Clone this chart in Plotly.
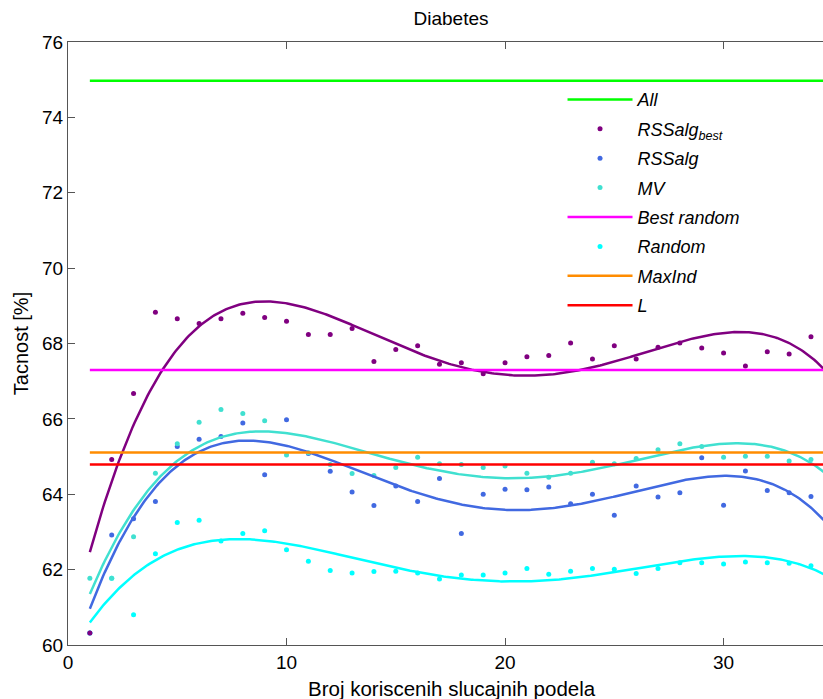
import numpy as np
import plotly.graph_objects as go

# Number of random splits used (the axis is cut at 34.55, so split 35 lies just off the visible area)
n_splits = list(range(1, 36))

# Accuracy [%] per number of splits
rssalg_best = [60.32, 64.92, 66.67, 68.83, 68.66, 68.53, 68.66, 68.80, 68.69, 68.59,
               68.24, 68.24, 68.40, 67.52, 67.84, 67.94, 67.45, 67.49, 67.20, 67.49,
               67.65, 67.68, 68.01, 67.59, 67.94, 67.59, 67.90, 68.01, 67.88, 67.75,
               67.40, 67.78, 67.72, 68.18, 67.70]
rssalg = [60.32, 62.92, 63.35, 63.81, 65.27, 65.46, 65.53, 65.89, 64.52, 65.98,
          65.08, 64.61, 64.06, 63.70, 64.22, 63.81, 64.42, 62.96, 64.00, 64.13,
          64.12, 64.19, 63.75, 64.00, 63.44, 64.22, 63.93, 64.04, 64.97, 63.71,
          64.62, 64.10, 64.04, 63.94, 63.10]
mv = [61.77, 61.77, 62.87, 64.56, 65.34, 65.91, 66.25, 66.14, 65.95, 65.04,
      65.10, 64.79, 64.55, 64.50, 64.71, 64.98, 64.81, 64.79, 64.71, 64.75,
      64.56, 64.45, 64.56, 64.85, 64.81, 64.95, 65.18, 65.34, 65.27, 64.98,
      65.01, 65.01, 64.88, 64.92, 64.85]
random_acc = [60.32, 61.77, 60.80, 62.42, 63.25, 63.31, 62.76, 62.96, 63.03, 62.53,
              62.22, 61.98, 61.91, 61.95, 61.96, 61.91, 61.75, 61.86, 61.86, 61.91,
              62.03, 61.88, 61.96, 62.03, 62.01, 61.90, 62.03, 62.18, 62.18, 62.15,
              62.20, 62.18, 62.17, 62.10, 62.00]

# Constant reference accuracies
all_acc = 74.97
best_random = 67.30
maxind = 65.11
l_acc = 64.79

line_span = [1, 35]

colors = {
    "all": "#00FF00",
    "best": "#800080",
    "rss": "#4169E1",
    "mv": "#40E0D0",
    "bestrand": "#FF00FF",
    "rand": "#00FFFF",
    "maxind": "#FF8C00",
    "l": "#FF0000",
}

FONT = "Liberation Sans, Arial, Helvetica, sans-serif"

fig = go.Figure()

# scatter points (drawn bottom to top)
point_series = [
    ("Random", random_acc, colors["rand"], 6),
    ("RSSalg", rssalg, colors["rss"], 3),
    ("MV", mv, colors["mv"], 4),
    ("RSSalg<sub>best</sub>", rssalg_best, colors["best"], 2),
]
for name, vals, col, rank in point_series:
    fig.add_trace(go.Scatter(
        x=n_splits, y=vals, mode="markers", name=name,
        marker=dict(color=col, size=5),
        legendrank=rank, legendgroup=name,
    ))

# 4th-degree polynomial trend of each point series
x_fine = np.linspace(1, 35, 400)
trend_series = [
    (rssalg_best, colors["best"]),
    (rssalg, colors["rss"]),
    (random_acc, colors["rand"]),
    (mv, colors["mv"]),
]
for vals, col in trend_series:
    coef = np.polyfit(n_splits, vals, 4)
    fig.add_trace(go.Scatter(
        x=x_fine, y=np.polyval(coef, x_fine), mode="lines",
        line=dict(color=col, width=2.5), showlegend=False, hoverinfo="skip",
    ))

# horizontal reference lines
h_lines = [
    ("All", all_acc, colors["all"], 1),
    ("Best random", best_random, colors["bestrand"], 5),
    ("MaxInd", maxind, colors["maxind"], 7),
    ("L", l_acc, colors["l"], 8),
]
for name, val, col, rank in h_lines:
    fig.add_trace(go.Scatter(
        x=line_span, y=[val, val], mode="lines", name=name,
        line=dict(color=col, width=2.5),
        legendrank=rank, legendgroup=name,
    ))

axis_common = dict(
    showline=True, linecolor="#555555", linewidth=1,
    ticks="inside", ticklen=7, tickcolor="#555555",
    showgrid=False, zeroline=False,
    tickfont=dict(family=FONT, size=19, color="black"),
)

fig.update_layout(
    width=823, height=699,
    margin=dict(l=68, r=0, t=42, b=54),
    paper_bgcolor="white", plot_bgcolor="white",
    title=dict(text="Diabetes", x=0.548, xref="container", xanchor="center",
               y=1 - 18 / 699, yref="container", yanchor="middle",
               font=dict(family=FONT, size=19, color="black")),
    xaxis=dict(range=[0, 34.55], tickvals=[0, 10, 20, 30], mirror="ticks",
               automargin=False, **axis_common),
    yaxis=dict(range=[60, 76], dtick=2, mirror=False,
               title=dict(text="Tacnost [%]", standoff=8,
                          font=dict(family=FONT, size=20, color="black")),
               automargin=False, **axis_common),
    legend=dict(x=0.655, y=0.935, xanchor="left", yanchor="top",
                bgcolor="rgba(0,0,0,0)", borderwidth=0,
                itemwidth=65, tracegroupgap=3,
                font=dict(family=FONT, size=18, color="black", style="italic")),
    showlegend=True,
    annotations=[dict(
        text="Broj koriscenih slucajnih podela", xref="paper", yref="paper",
        x=0.508, y=-0.0725, xanchor="center", yanchor="middle", showarrow=False,
        font=dict(family=FONT, size=20.5, color="black"),
    )],
)

fig.write_html("out.html")
